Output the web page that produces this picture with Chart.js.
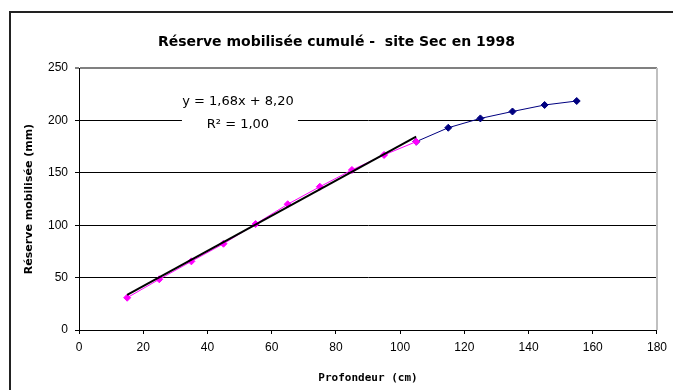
<!DOCTYPE html>
<html>
<head>
<meta charset="utf-8">
<script src="https://cdn.jsdelivr.net/npm/chart.js@4.4.1/dist/chart.umd.min.js"></script>
<style>
  html, body { margin: 0; padding: 0; background: #fff; }
  #wrap { width: 673px; height: 390px; position: relative; }
</style>
</head>
<body>
<div id="wrap"><canvas id="chart" width="673" height="390"></canvas></div>
<script>
// Cumulative mobilised water reserve by depth, dry site, 1998
const depthMeasured = [15, 25, 35, 45, 55, 65, 75, 85, 95, 105];
const reserveMeasured = [30.8, 48.4, 65.5, 82.3, 101.1, 120, 136.7, 152.7, 167, 179.7];

const depthDeep = [105, 115, 125, 135, 145, 155];
const reserveDeep = [179.7, 193, 201.9, 208.5, 214.7, 218.5];

// Linear fit over the measured segment
const fitSlope = 1.68;
const fitIntercept = 8.20;
const fitR2 = 1.00;
const fitRange = [15, 105];

const xTicks = [0, 20, 40, 60, 80, 100, 120, 140, 160, 180];
const yTicks = [0, 50, 100, 150, 200, 250];

const toPoints = (xs, ys) => xs.map((x, i) => ({ x: x, y: ys[i] }));
const fitPoints = fitRange.map(x => ({ x: x, y: fitSlope * x + fitIntercept }));

const frFmt = v => v.toFixed(2).replace('.', ',');

// Outer frame, plot border and the regression label box
const decorations = {
  id: 'decorations',
  beforeDraw(chart) {
    const c = chart.ctx;
    c.save();
    c.fillStyle = '#fff';
    c.fillRect(0, 0, chart.width, chart.height);
    c.strokeStyle = '#222';
    c.lineWidth = 2;
    c.strokeRect(10, 12, 700, 400);
    c.restore();
  },
  afterDatasetsDraw(chart) {
    const c = chart.ctx;
    const a = chart.chartArea;
    c.save();
    c.strokeStyle = '#c0c0c0';
    c.lineWidth = 2;
    c.beginPath();
    c.moveTo(a.right, a.top);
    c.lineTo(a.right, a.bottom);
    c.stroke();

    // equation label
    const xs = chart.scales.x, ys = chart.scales.y;
    const cx = xs.getPixelForValue(49.5);
    const cy = ys.getPixelForValue(207);
    c.fillStyle = '#fff';
    c.fillRect(cx - 56, cy - 26, 116, 50);
    c.fillStyle = '#000';
    c.font = '13px "DejaVu Sans"';
    c.textAlign = 'center';
    c.textBaseline = 'middle';
    c.fillText('y = ' + frFmt(fitSlope) + 'x + ' + frFmt(fitIntercept), cx, cy - 11);
    c.fillText('R\u00B2 = ' + frFmt(fitR2), cx, cy + 12);
    c.restore();
  }
};

new Chart(document.getElementById('chart'), {
  type: 'scatter',
  data: {
    datasets: [
      {
        label: 'fit',
        data: fitPoints,
        showLine: true,
        borderColor: '#000',
        borderWidth: 2,
        pointRadius: 0
      },
      {
        label: 'measured',
        data: toPoints(depthMeasured, reserveMeasured),
        showLine: true,
        borderColor: '#FF00FF',
        backgroundColor: '#FF00FF',
        borderWidth: 1,
        pointStyle: 'rectRot',
        pointRadius: 3.5,
        pointBorderWidth: 1
      },
      {
        label: 'deep',
        data: toPoints(depthDeep, reserveDeep),
        showLine: true,
        borderColor: '#000080',
        backgroundColor: '#000080',
        borderWidth: 1,
        pointStyle: 'rectRot',
        pointRadius: 3.5,
        pointBorderWidth: 1
      }
    ]
  },
  options: {
    responsive: false,
    animation: false,
    layout: { padding: { left: 16, right: 16, top: 0, bottom: 0 } },
    plugins: {
      legend: { display: false },
      tooltip: { enabled: false },
      title: {
        display: true,
        text: 'Réserve mobilisée cumulé -  site Sec en 1998',
        color: '#000',
        font: { family: '"DejaVu Sans"', size: 14, weight: 'bold' },
        padding: { top: 33.6, bottom: 17.6 }
      }
    },
    scales: {
      x: {
        type: 'linear',
        min: 0,
        max: 180,
        afterBuildTicks: s => { s.ticks = xTicks.map(v => ({ value: v })); },
        afterFit: s => { s.height = 60; },
        ticks: {
          color: '#000',
          font: { family: '"Liberation Sans"', size: 12 },
          padding: 6,
          maxRotation: 0
        },
        grid: {
          drawOnChartArea: false,
          drawTicks: true,
          tickLength: 4,
          color: '#000'
        },
        border: { color: '#000', width: 1 },
        title: {
          display: true,
          text: 'Profondeur (cm)',
          color: '#000',
          font: { family: '"DejaVu Sans Mono"', size: 11, weight: 'bold' },
          padding: { top: 4, bottom: 5 }
        }
      },
      y: {
        type: 'linear',
        min: 0,
        max: 250,
        afterBuildTicks: s => { s.ticks = yTicks.map(v => ({ value: v })); },
        afterFit: s => { s.width = 63; },
        ticks: {
          color: '#000',
          font: { family: '"Liberation Sans"', size: 12 },
          padding: 7
        },
        grid: {
          drawTicks: true,
          tickLength: 4,
          color: ctx => (ctx.tick && ctx.tick.value === 250 ? '#808080' : '#000'),
          lineWidth: ctx => (ctx.tick && ctx.tick.value === 250 ? 2 : 1)
        },
        border: { color: '#000', width: 1 },
        title: {
          display: true,
          text: 'Réserve mobilisée (mm)',
          color: '#000',
          font: { family: '"DejaVu Sans"', size: 11, weight: 'bold' },
          padding: { top: 7, bottom: 4 }
        }
      }
    }
  },
  plugins: [decorations]
});
</script>
</body>
</html>
